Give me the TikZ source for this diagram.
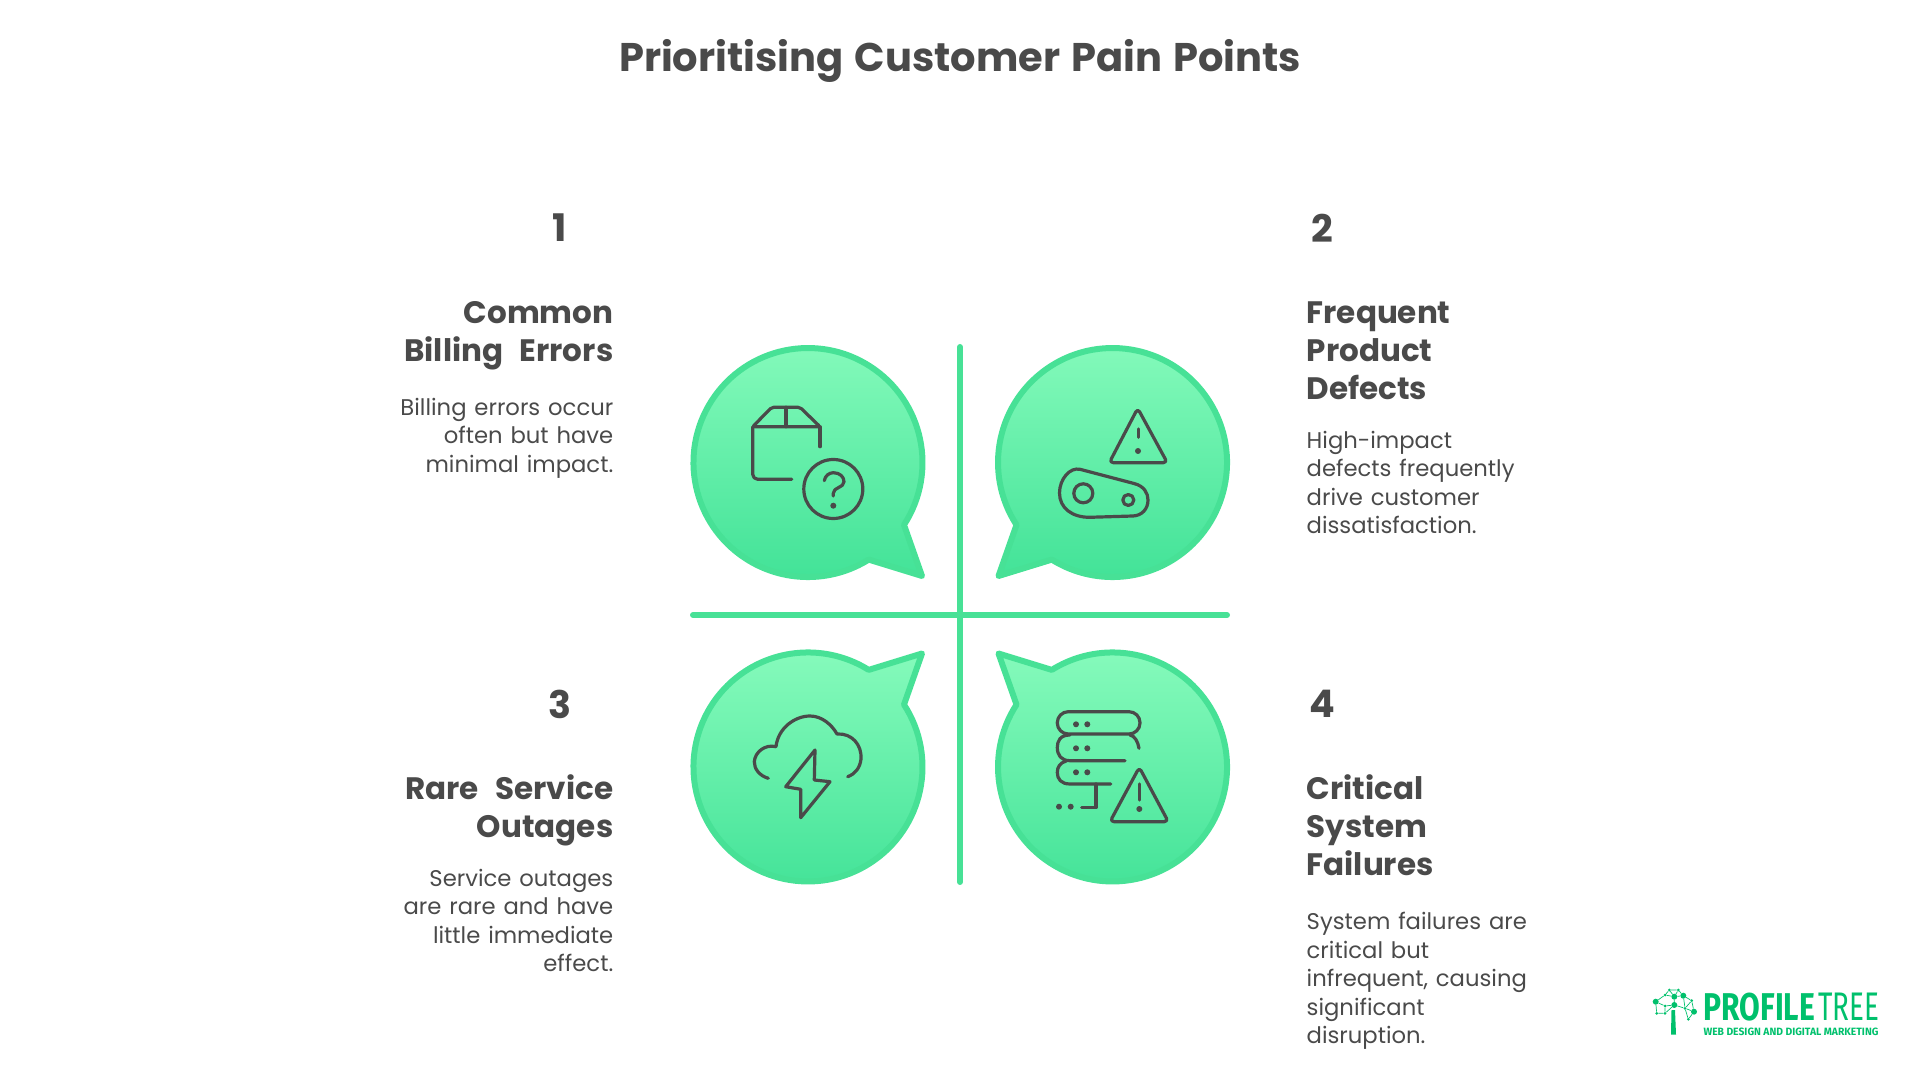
\documentclass[tikz,border=0pt]{standalone}
\usepackage{fontspec}
\usepackage{graphicx}
\setmainfont{Poppins}[WordSpace=1.3]
\newfontfamily\headfont{Poppins}[WordSpace=2.5]
\newfontfamily\logofont{Fira Sans}
\definecolor{ink}{HTML}{4A4A4A}
\definecolor{mint}{HTML}{47E196}
\definecolor{minttop}{HTML}{87FBBC}
\definecolor{mintlow}{HTML}{41E297}
\definecolor{leaf}{HTML}{00C06C}
\tikzset{
  bubble/.style={draw=mint,line width=6,line join=round,top color=minttop,bottom color=mintlow},
  axisline/.style={draw=mint,line width=6,line cap=round},
  icon/.style={draw=ink,line width=3.2,line cap=round,line join=round},
  icondot/.style={fill=ink,inner sep=0pt,minimum size=6pt,shape=circle},
  numlabel/.style={text=ink,inner sep=0pt,font=\fontsize{38}{38}\selectfont\bfseries},
  headlabel/.style={text=ink,inner sep=0pt,font=\headfont\fontsize{31}{38}\selectfont\bfseries},
  desclabel/.style={text=ink,inner sep=0pt,font=\fontsize{22.7}{28.5}\selectfont},
  treenode/.style={fill=leaf,inner sep=0pt,minimum size=3pt,shape=circle},
  treebig/.style={fill=leaf,inner sep=0pt,minimum size=6pt,shape=circle},
  treeline/.style={draw=leaf,line width=.7}
}
\begin{document}
\begin{tikzpicture}[x=1pt,y=1pt]
      \useasboundingbox (0,0) rectangle (1920,1080) ;
      \node[text=ink,inner sep=0pt,font=\fontsize{40}{40}\selectfont\bfseries] %
      (title) at (960,1019) {Prioritising Customer Pain Points} ;
      % axes
      \coordinate (vtop) at (960,733) ;
      \coordinate (vlow) at (960,198) ;
      \coordinate (hleft) at (693,465) ;
      \coordinate (hright) at (1227,465) ;
      \draw[axisline] (vtop)--(vlow) ;
      \draw[axisline] (hleft)--(hright) ;
      % bubbles
      \draw[bubble] (868.7,520.4)--(922,504)--(904,555.1) arc (-33:302:114.5)--cycle ;
      \draw[bubble] (1051.8,520.4)--(998.5,504)--(1016.5,555.1) arc (213:-122:114.5)--cycle ;
      \draw[bubble] (868.7,410.1)--(922,426.5)--(904,375.4) arc (33:-302:114.5)--cycle ;
      \draw[bubble] (1051.8,410.1)--(998.5,426.5)--(1016.5,375.4) arc (147:482:114.5)--cycle ;
      % box with question mark
      \draw[icon,rounded corners=2] (752.7,653.3)--(771.7,672.7)--(800,672.7)--(820,653.3)--cycle ;
      \draw[icon] (786,672.7)--(786,653.3) ;
      \draw[icon,rounded corners=5] (752.7,653.3)--(752.7,600.7)--(791.7,600.7) ;
      \draw[icon] (820,653.3)--(820,633.3) ;
      \draw[icon] (833.3,591) circle (29.5) ;
      \draw[icon] (824.3,599.3) .. controls (825,604) and (829,607.3) .. (833.3,607.3) %
      .. controls (840,607.3) and (844,603) .. (844,598.3) .. controls (844,592) and (833.3,593) .. (833.3,586.7)--(833.3,584) ;
      \node[icondot] (qdot) at (833.3,574.3) {} ;
      % belt with warning
      \draw[icon,rounded corners=4] (1137.7,671.7)--(1109.3,617.3)--(1167.3,617.3)--cycle ;
      \draw[icon] (1138.3,651)--(1138.3,642.7) ;
      \node[icondot] (wdot1) at (1138,629) {} ;
      \draw[icon] (1080,610.7)--(1134,596.5) .. controls (1144,594) and (1148,587) .. (1148,580) %
      .. controls (1148,571) and (1142,564.5) .. (1133,564)--(1090,562.7) %
      .. controls (1072,562.5) and (1059.5,572) .. (1059.5,587) %
      .. controls (1059.5,601) and (1070,613) .. (1080,610.7)--cycle ;
      \draw[icon] (1083.3,586.7) circle (9.5) ;
      \draw[icon] (1128.3,580) circle (5.5) ;
      % cloud with bolt
      \draw[icon] (768.3,301.7) .. controls (760,304) and (754,311) .. (754.3,318.3) %
      .. controls (755,328) and (765,336) .. (776,333.3) %
      .. controls (778,352) and (795,364) .. (810,364) %
      .. controls (822,364) and (832,355) .. (837,346) %
      .. controls (852,347) and (862,335) .. (861,321) %
      .. controls (860,312) and (855,306) .. (847.7,303.3) ;
      \draw[icon] (815,330)--(785.7,293.3)--(800.7,290.7)--(800.7,262.3)--(830,298.3)--(814.3,300)--cycle ;
      % servers with warning
      \draw[icon,rounded corners=11] (1057.3,346) rectangle (1140,368.3) ;
      \draw[icon] (1130,345) .. controls (1135,344) and (1138,338) .. (1139,331.7) ;
      \draw[icon] (1070,345) .. controls (1060,345) and (1057.3,339) .. (1057.3,332.5) %
      .. controls (1057.3,325) and (1061,319.3) .. (1070,319.3)--(1125,319.3) ;
      \draw[icon] (1066,319) .. controls (1060,317) and (1057.3,313) .. (1057.3,307.5) %
      .. controls (1057.3,301) and (1061,296) .. (1070,296)--(1110.7,296) ;
      \draw[icon] (1096,296)--(1096,272.3)--(1081.7,272.3) ;
      \node[icondot] (sdot1) at (1076,355.7) {} ;
      \node[icondot] (sdot2) at (1087.3,355.7) {} ;
      \node[icondot] (sdot3) at (1076,331.7) {} ;
      \node[icondot] (sdot4) at (1087.3,331.7) {} ;
      \node[icondot] (sdot5) at (1076,307.7) {} ;
      \node[icondot] (sdot6) at (1087.3,307.7) {} ;
      \node[icondot] (sdot7) at (1059,273.3) {} ;
      \node[icondot] (sdot8) at (1070.7,273.3) {} ;
      \draw[icon,rounded corners=4] (1139.3,312.7)--(1110,258.3)--(1168.3,258.3)--cycle ;
      \draw[icon] (1139.3,296)--(1139.3,280) ;
      \node[icondot] (wdot2) at (1139.3,271) {} ;
      % labels
      \node[numlabel] (num1) at (560,852) {1} ;
      \node[numlabel] (num2) at (1322,852) {2} ;
      \node[numlabel] (num3) at (560,376) {3} ;
      \node[numlabel] (num4) at (1322,376) {4} ;
      \node[headlabel,anchor=north east,align=right] (head1) at (613.5,779) {Common\\Billing Errors} ;
      \node[headlabel,anchor=north west,align=left] (head2) at (1306.5,778) {Frequent\\Product\\Defects} ;
      \node[headlabel,anchor=north east,align=right] (head3) at (613.5,305.5) {Rare Service\\Outages} ;
      \node[headlabel,anchor=north west,align=left] (head4) at (1306.5,305.5) {Critical\\System\\Failures} ;
      \node[desclabel,anchor=north east,align=right] (desc1) at (613.5,682) {Billing errors occur\\often but have\\minimal impact.} ;
      \node[desclabel,anchor=north west,align=left] (desc2) at (1306.5,649) {High-impact\\defects frequently\\drive customer\\dissatisfaction.} ;
      \node[desclabel,anchor=north east,align=right] (desc3) at (613.5,211) {Service outages\\are rare and have\\little immediate\\effect.} ;
      \node[desclabel,anchor=north west,align=left] (desc4) at (1306.5,168) {System failures are\\critical but\\infrequent, causing\\significant\\disruption.} ;
      % logo
      \fill[leaf] (1671.5,70)--(1675,70)--(1676,45.5)--(1671,45.5)--cycle ;
      \node[treebig] (t1) at (1655.7,78.3) {} ;
      \node[treenode] (t2) at (1665,85) {} ;
      \node[treenode] (t3) at (1669.3,90) {} ;
      \node[treenode] (t4) at (1678.3,90) {} ;
      \node[treebig] (t5) at (1683.3,84.3) {} ;
      \node[treenode] (t6) at (1691.7,79.3) {} ;
      \node[treebig] (t7) at (1694,68.3) {} ;
      \node[treenode] (t8) at (1685,71.7) {} ;
      \node[treebig] (t9) at (1674.3,75) {} ;
      \node[treebig] (t10) at (1674.3,83.3) {} ;
      \node[treenode] (t11) at (1656.7,66.7) {} ;
      \node[treenode] (t12) at (1665,66.7) {} ;
      \node[treenode] (t13) at (1665,74) {} ;
      \node[treenode] (t14) at (1688.3,60.7) {} ;
      \draw[treeline] (t1)--(t2)--(t3)--(t4)--(t5)--(t6)--(t7)--(t14)--(t8)--(t7) ;
      \draw[treeline] (t1)--(t13)--(t9)--(t10)--(t2) ;
      \draw[treeline] (t1)--(t11)--(t12)--(t13) ;
      \draw[treeline] (t10)--(t5)--(t8)--(t9)--(t12) ;
      \draw[treeline] (t3)--(t10)--(t4) ;
      \draw[treeline] (t6)--(t8) ;
      \node[anchor=base west,inner sep=0pt,text=leaf] (logo1) at (1703.3,60) %
      {\resizebox{111.5pt}{27.5pt}{\logofont\bfseries PROFILE}} ;
      \node[anchor=base west,inner sep=0pt,text=leaf] (logo2) at (1818,60) %
      {\resizebox{61pt}{27.5pt}{\logofont TREE}} ;
      \node[anchor=base west,inner sep=0pt,text=leaf] (logo3) at (1703.3,44.3) %
      {\resizebox{175pt}{7.5pt}{\logofont\bfseries WEB DESIGN AND DIGITAL MARKETING}} ;
\end{tikzpicture}
\end{document}
